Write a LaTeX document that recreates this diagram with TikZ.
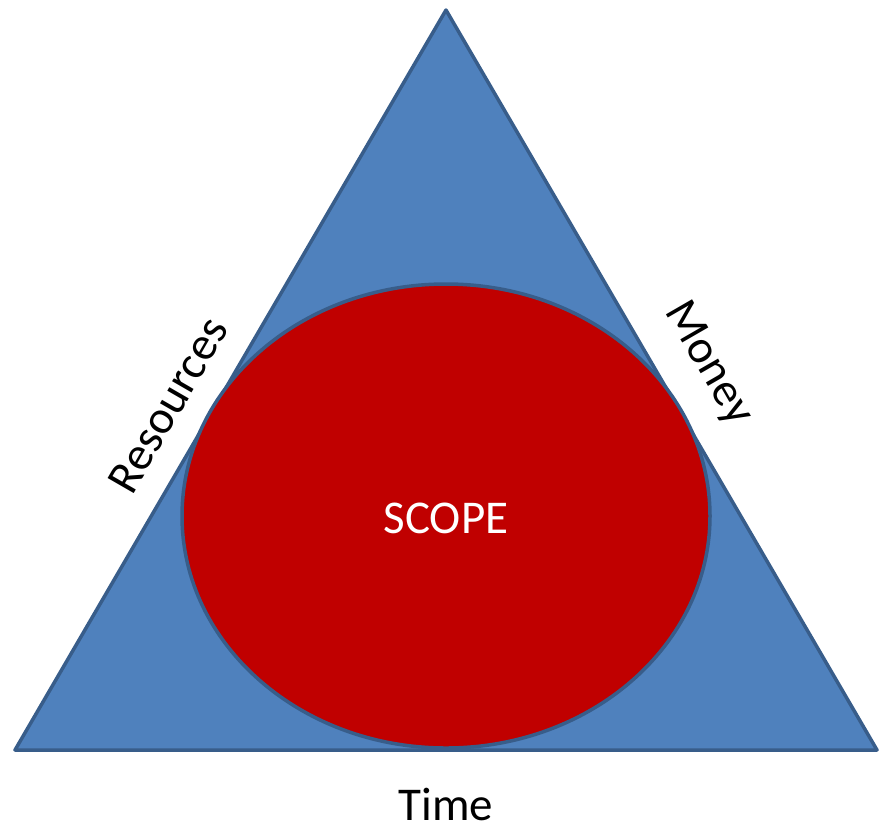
\documentclass[tikz,border=0pt]{standalone}
\usepackage{fontspec}
\setmainfont{Carlito}
\definecolor{triblue}{HTML}{4F81BD}
\definecolor{edgeblue}{HTML}{385D8A}
\definecolor{scopered}{HTML}{C00000}
\begin{document}
\begin{tikzpicture}[x=1pt,y=-1pt,
  shapeline/.style={draw=edgeblue,line width=3.5pt,line join=round},
  sidelabel/.style={font=\fontsize{47}{56}\selectfont,text=black,inner sep=0pt}]
\useasboundingbox (0,0) rectangle (883,823);
\coordinate (apex) at (446,10);
\coordinate (bl) at (15,750);
\coordinate (br) at (877,750);
\filldraw[shapeline,fill=triblue] (apex) -- (br) -- (bl) -- cycle;
\filldraw[shapeline,fill=scopered] (446,516) ellipse [x radius=264,y radius=232];
\node[sidelabel,text=white,anchor=base] (scope) at (446,533) {SCOPE};
\node[sidelabel,rotate=60] (res) at (168,405) {Resources};
\node[sidelabel,rotate=-60] (money) at (708,364) {Money};
\node[sidelabel,anchor=base] (time) at (446,820) {Time};
\end{tikzpicture}
\end{document}
